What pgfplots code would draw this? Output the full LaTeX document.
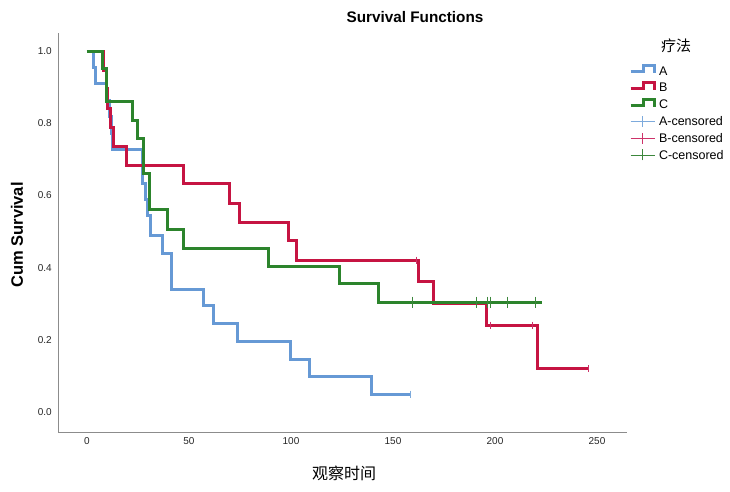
\documentclass[border=0pt]{standalone}
\usepackage{pgfplots}
\pgfplotsset{compat=1.18}
\usepackage{fontspec}
\setmainfont{Liberation Sans}
\newfontfamily\cjk{Noto Sans CJK SC}
\definecolor{cA}{RGB}{102,153,213}
\definecolor{cB}{RGB}{198,20,66}
\definecolor{cC}{RGB}{44,132,44}
\definecolor{cAc}{RGB}{125,170,220}
\definecolor{cBc}{RGB}{205,50,105}
\definecolor{cCc}{RGB}{60,135,60}
\newcommand\ls{\rule[-4.1pt]{0pt}{16.8pt}}
\pgfplotsset{
  stepimg/.style={legend image code/.code={
    \path[draw=none,fill=none] (0pt,-5.7pt) rectangle (24pt,5.7pt);
    \draw[#1,line width=2.8pt] (0pt,-1pt) -- (12.5pt,-1pt) -- (12.5pt,5.2pt) -- (24pt,5.2pt) -- (24pt,-2.2pt);}},
  censimg/.style={legend image code/.code={
    \path[draw=none,fill=none] (0pt,-5.7pt) rectangle (24pt,5.7pt);
    \draw[#1,line width=0.7pt] (0pt,0pt) -- (24pt,0pt);
    \draw[#1,line width=0.7pt] (12pt,-5.5pt) -- (12pt,5.5pt);}},
}
\begin{document}
\begin{tikzpicture}[x=1pt,y=1pt]
\path[use as bounding box] (0,0) rectangle (730,492);
\begin{axis}[
  at={(58pt,60pt)}, anchor=south west,
  scale only axis, width=569pt, height=399pt,
  xmin=-14.2, xmax=264.7, ymin=-0.055, ymax=1.05,
  axis x line*=bottom, axis y line*=left,
  axis line style={draw=black!45, line width=0.9pt, -},
  xtick={0,50,100,150,200,250},
  ytick={0,0.2,0.4,0.6,0.8,1.0},
  major tick length=0pt,
  /pgf/number format/assume math mode=true,
  tick label style={font=\fontsize{10}{12}\selectfont, text=black!85, inner sep=0pt},
  xticklabel style={yshift=-5pt},
  yticklabel style={xshift=-6pt, /pgf/number format/.cd, fixed, fixed zerofill, precision=1},
  legend cell align=left,
  legend style={draw=none, fill=none, at={(axis description cs:1.0035,0.9266)}, anchor=north west, inner sep=0pt, row sep=0pt, column sep=3pt, nodes={inner sep=0pt, text depth=}, font=\fontsize{12.5}{14}\selectfont},
  const plot,
]
\addplot[cA, line width=3pt, stepimg=cA] coordinates {
(0,1) (3,0.955) (4,0.909) (9.8,0.864) (10.8,0.818) (11.8,0.773) (12.7,0.728)
(27.3,0.634) (28.5,0.59) (29.8,0.545) (31.2,0.49) (36.8,0.44) (41.2,0.34)
(56.9,0.294) (61.8,0.245) (74,0.197) (100,0.147) (109.3,0.1) (139.3,0.05) (158.3,0.05)};
\addlegendentry{\ls A}
\addplot[cB, line width=3pt, stepimg=cB] coordinates {
(0,1) (8.2,0.947) (9.5,0.895) (10.3,0.842) (11.3,0.789) (13,0.737) (19.6,0.684)
(47.5,0.632) (70.1,0.579) (74.8,0.526) (98.8,0.474) (102.7,0.421) (162.3,0.361)
(169.7,0.301) (195.6,0.241) (220.6,0.12) (246,0.12)};
\addlegendentry{\ls B}
\addplot[cC, line width=3pt, stepimg=cC] coordinates {
(0,1) (7.8,0.953) (9.8,0.859) (22.5,0.809) (25,0.759) (27.7,0.662) (30.8,0.56)
(39.7,0.507) (47.5,0.454) (89.2,0.404) (124,0.355) (143.1,0.305) (223,0.305)};
\addlegendentry{\ls C}
\addplot[cAc, only marks, mark=|, mark size=3.5pt, mark options={line width=0.8pt}, censimg=cAc] coordinates {(158.3,0.05)};
\addlegendentry{\ls A-censored}
\addplot[cBc, only marks, mark=|, mark size=3.5pt, mark options={line width=0.8pt}, censimg=cBc] coordinates {(161.5,0.421) (197.5,0.241) (218.1,0.241) (246,0.12)};
\addlegendentry{\ls B-censored}
\addplot[cCc, only marks, mark=|, mark size=5.5pt, mark options={line width=0.8pt}, censimg=cCc] coordinates {(159.3,0.305) (190.7,0.305) (196.1,0.305) (197.5,0.305) (205.9,0.305) (219.6,0.305)};
\addlegendentry{\ls C-censored}
\end{axis}
\node[font=\bfseries\fontsize{15.3}{18}\selectfont] at (415,475) {Survival Functions};
\node[rotate=90, inner sep=0pt, font=\bfseries\fontsize{16.5}{20}\selectfont] at (17,257) {Cum Survival};
\node[inner sep=0pt, font=\cjk\fontsize{16}{19}\selectfont] at (344,19) {观察时间};
\node[inner sep=0pt, font=\cjk\fontsize{15}{18}\selectfont] at (676,446) {疗法};
\end{tikzpicture}
\end{document}
